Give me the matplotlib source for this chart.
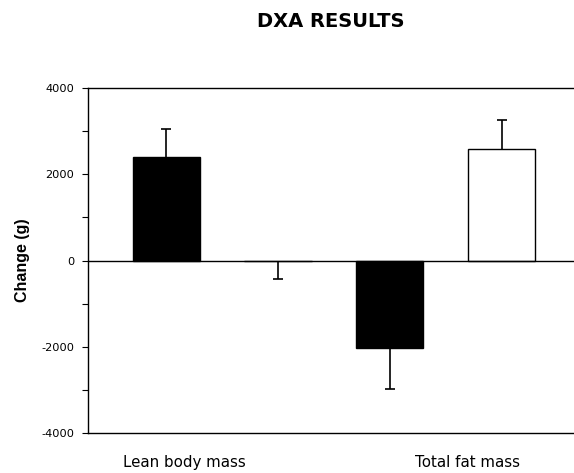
import matplotlib
matplotlib.use('Agg')
import matplotlib.pyplot as plt
import numpy as np

# data
bar_values = [2390, -20, -2040, 2575]
bar_errors = [670, 420, 950, 675]
bar_colors = ["black", "white", "black", "white"]
group_labels = ["Lean body mass", "Total fat mass"]
group_label_pos = [0.16, 2.70]
y_ticks = [-4000, -2000, 0, 2000, 4000]

plt.rcParams['font.family'] = ['DejaVu Sans']
plt.rcParams['axes.unicode_minus'] = False

fig = plt.figure(figsize=(5.74, 4.73), dpi=100, facecolor="white")
ax = fig.add_axes([88 / 574, 1 - 433 / 473, 1 - 88 / 574 + 0.01, 345 / 473])

x = np.arange(len(bar_values))
ax.bar(x, bar_values, width=0.60, color=bar_colors, edgecolor="black",
       linewidth=1.0, zorder=2)

# one-sided error bars (away from zero), cap only at the far end
for xi, v, e in zip(x, bar_values, bar_errors):
    positive = v >= 0
    lower = [0] if positive else [e]
    upper = [e] if positive else [0]
    _, caps, _ = ax.errorbar(xi, v, yerr=[lower, upper], fmt="none",
                             ecolor="black", elinewidth=1.2, capsize=3.6,
                             capthick=1.2, zorder=3)
    # caps = (lower cap, upper cap); hide the one sitting on the bar end
    caps[0 if positive else 1].set_visible(False)

ax.axhline(0, color="black", linewidth=1.0, zorder=4)

ax.set_xlim(-0.70, 3.70)
ax.set_ylim(-4000, 4000)
ax.set_yticks(y_ticks)
ax.set_yticks(np.arange(-3000, 4000, 2000), minor=True)
ax.tick_params(axis="y", which="both", direction="out", length=4,
               width=0.8, labelsize=8.2, pad=6)
ax.set_xticks(group_label_pos)
ax.set_xticklabels(group_labels, fontsize=10.8)
ax.tick_params(axis="x", length=0, pad=16)

ax.spines["right"].set_visible(False)
for s in ["left", "top", "bottom"]:
    ax.spines[s].set_linewidth(1.0)

ax.set_ylabel("Change (g)", fontsize=11.5, fontweight="bold", labelpad=8,
              family="Liberation Sans")
fig.text(331 / 574, 1 - 21 / 473, "DXA RESULTS", ha="center", va="center",
         fontsize=14, fontweight="bold")

fig.savefig("out.png", dpi=100, facecolor="white")
plt.close(fig)
